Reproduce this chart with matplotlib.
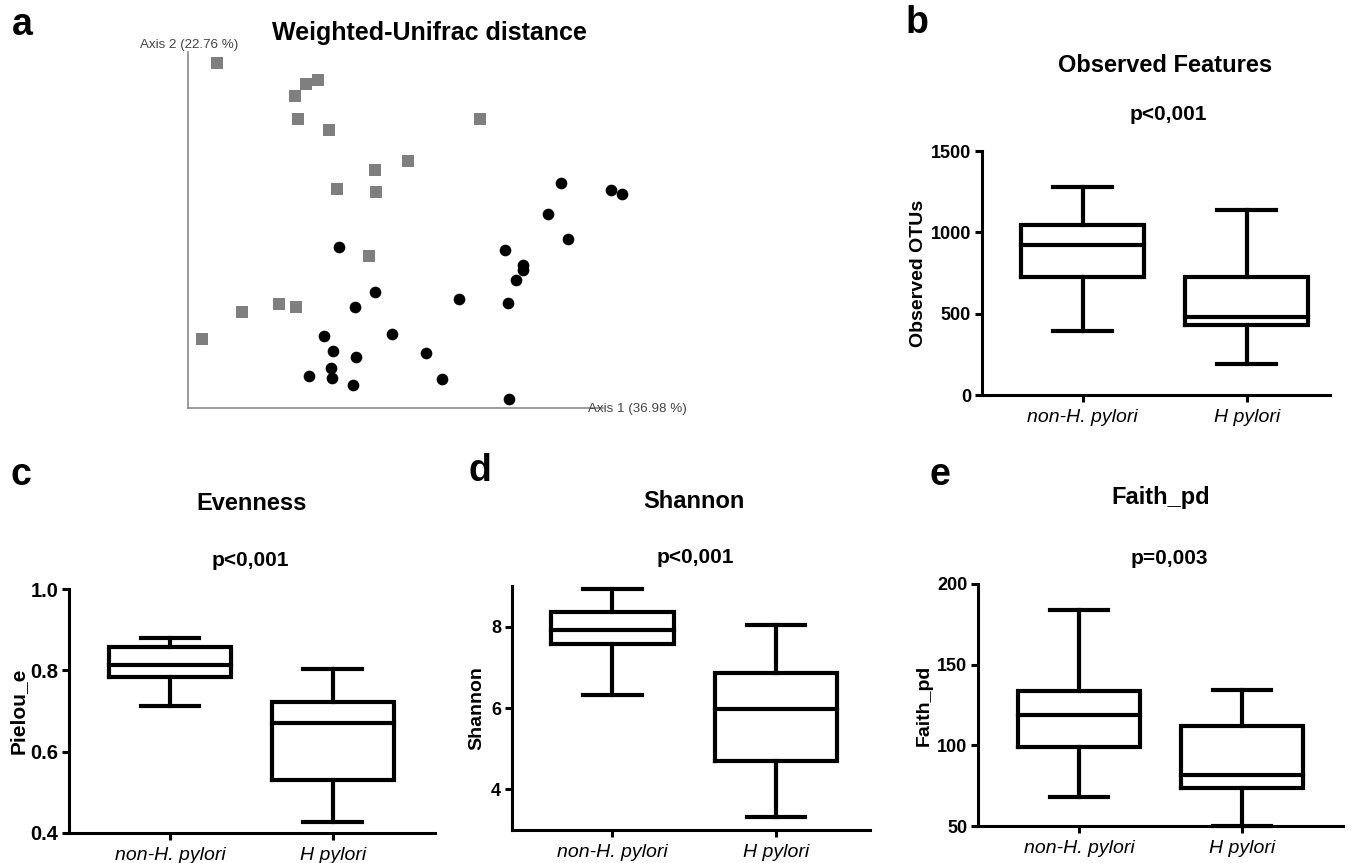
import matplotlib
matplotlib.use("Agg")
import matplotlib.pyplot as plt

plt.rcParams['font.family'] = ['Liberation Sans', 'DejaVu Sans']

W, H = 1358, 863

# ---------------- data ----------------
groups = ["non-H. pylori", "H pylori"]

# Panel a: PCoA coordinates (arbitrary units)
sq_pc1 = [0.29, 1.07, 1.18, 1.30, 1.10, 1.41, 2.92, 2.20, 1.87, 1.49, 1.88, 1.81, 0.91, 1.08, 0.54, 0.14]
sq_pc2 = [3.45, 3.12, 3.24, 3.28, 2.89, 2.78, 2.89, 2.47, 2.38, 2.19, 2.16, 1.52, 1.04, 1.01, 0.96, 0.69]
ci_pc1 = [3.73, 4.23, 4.34, 3.60, 3.80, 1.51, 3.17, 3.35, 3.35, 3.28, 1.87, 2.71, 3.20,
          1.67, 2.04, 1.36, 1.45, 2.38, 1.68, 1.43, 1.21, 1.44, 2.54, 1.65, 3.21]
ci_pc2 = [2.25, 2.18, 2.14, 1.94, 1.69, 1.61, 1.58, 1.43, 1.38, 1.28, 1.16, 1.09, 1.05,
          1.01, 0.74, 0.72, 0.57, 0.55, 0.51, 0.40, 0.32, 0.30, 0.29, 0.23, 0.09]

# Panel b: Observed features
obs_whislo = [391, 188]
obs_q1 = [726, 430]
obs_med = [921, 480]
obs_q3 = [1044, 726]
obs_whishi = [1279, 1140]

# Panel c: Evenness
eve_whislo = [0.713, 0.426]
eve_q1 = [0.783, 0.530]
eve_med = [0.813, 0.670]
eve_q3 = [0.858, 0.723]
eve_whishi = [0.879, 0.804]

# Panel d: Shannon
sha_whislo = [6.31, 3.31]
sha_q1 = [7.58, 4.70]
sha_med = [7.92, 5.98]
sha_q3 = [8.36, 6.87]
sha_whishi = [8.93, 8.03]

# Panel e: Faith_pd
fai_whislo = [68.2, 50.2]
fai_q1 = [98.8, 73.6]
fai_med = [118.6, 81.6]
fai_q3 = [133.9, 112.0]
fai_whishi = [183.9, 134.3]

fig = plt.figure(figsize=(W / 100, H / 100), dpi=100)


def px_axes(left, top, right, bottom):
    return fig.add_axes([left / W, (H - bottom) / H, (right - left) / W, (bottom - top) / H])


def ftext(x, y, s, **kw):
    fig.text(x / W, 1 - y / H, s, ha=kw.pop('ha', 'center'), va=kw.pop('va', 'center'), **kw)


# ---------------- panel a ----------------
axa = px_axes(188, 48, 688, 408)
axa.set_xlim(0, 5)
axa.set_ylim(0, 3.6)
axa.axis('off')
axa.plot([0, 0], [0, 3.56], color='#8a8a8a', lw=1.2, clip_on=False)
axa.plot([0, 4.15], [0, 0], color='#8a8a8a', lw=1.2, clip_on=False)
axa.plot(sq_pc1, sq_pc2, linestyle='none', marker='s', markersize=8.0,
         color='#7f7f7f', markeredgewidth=0, clip_on=False)
axa.plot(ci_pc1, ci_pc2, linestyle='none', marker='o', markersize=8.4,
         color='black', markeredgewidth=0, clip_on=False)
ftext(140, 45, "Axis 2 (22.76 %)", ha='left', fontsize=9.6, color='#444444')
ftext(588, 409, "Axis 1 (36.98 %)", ha='left', fontsize=9.6, color='#444444')
ftext(429, 33, "Weighted-Unifrac distance", fontsize=18, fontweight='bold')


# ---------------- box panels ----------------
def box_panel(rect, xlim, ylim, yticks, yticklabels, whislo, q1, med, q3, whishi,
              ylabel, ylabel_x, tick_fs=13, label_fs=14):
    ax = px_axes(*rect)
    stats = []
    for i in range(len(groups)):
        stats.append(dict(whislo=whislo[i], q1=q1[i], med=med[i], q3=q3[i], whishi=whishi[i], fliers=[]))
    lw = 3.0
    ax.bxp(stats, positions=[1, 2], widths=0.75, capwidths=0.36, showfliers=False,
           patch_artist=False,
           boxprops=dict(color='black', linewidth=lw),
           whiskerprops=dict(color='black', linewidth=lw),
           capprops=dict(color='black', linewidth=lw),
           medianprops=dict(color='black', linewidth=lw),
           manage_ticks=False)
    for ln in ax.lines:
        ln.set_clip_on(False)
        ln.set_solid_capstyle('projecting')
        ln.set_solid_joinstyle('miter')
    ax.set_xlim(*xlim)
    ax.set_ylim(*ylim)
    ax.set_xticks([1, 2])
    ax.set_xticklabels(groups, fontsize=14, fontstyle='italic')
    ax.set_yticks(yticks)
    ax.set_yticklabels(yticklabels, fontsize=tick_fs, fontweight='bold')
    for s in ['top', 'right']:
        ax.spines[s].set_visible(False)
    for s in ['left', 'bottom']:
        ax.spines[s].set_linewidth(2.2)
    ax.tick_params(axis='both', width=2.2, length=5, pad=3)
    ax.tick_params(axis='x', pad=5)
    ax.set_ylabel(ylabel, fontsize=label_fs, fontweight='bold')
    ax.yaxis.set_label_coords(ylabel_x, 0.5)
    return ax


box_panel((982, 151, 1330, 395), (0.386, 2.508), (0, 1500), [0, 500, 1000, 1500],
          ['0', '500', '1000', '1500'],
          obs_whislo, obs_q1, obs_med, obs_q3, obs_whishi, 'Observed OTUs', -0.158)
box_panel((69.3, 589.3, 435, 832.7), (0.381, 2.629), (0.4, 1.0), [0.4, 0.6, 0.8, 1.0],
          ['0.4', '0.6', '0.8', '1.0'],
          eve_whislo, eve_q1, eve_med, eve_q3, eve_whishi, 'Pielou_e', -0.113,
          tick_fs=14.5, label_fs=15)
box_panel((512.3, 586, 870, 830), (0.389, 2.574), (3.0, 9.0), [4, 6, 8],
          ['4', '6', '8'],
          sha_whislo, sha_q1, sha_med, sha_q3, sha_whishi, 'Shannon', -0.076)
box_panel((978.3, 584, 1343, 826), (0.381, 2.62), (50, 200), [50, 100, 150, 200],
          ['50', '100', '150', '200'],
          fai_whislo, fai_q1, fai_med, fai_q3, fai_whishi, 'Faith_pd', -0.124)

# titles and p-values
ftext(1165, 65, "Observed Features", fontsize=17, fontweight='bold')
ftext(1168, 115, "p<0,001", fontsize=15, fontweight='bold')
ftext(252, 503, "Evenness", fontsize=17, fontweight='bold')
ftext(250, 560, "p<0,001", fontsize=15, fontweight='bold')
ftext(694, 501, "Shannon", fontsize=17, fontweight='bold')
ftext(695, 557, "p<0,001", fontsize=15, fontweight='bold')
ftext(1161, 497, "Faith_pd", fontsize=17, fontweight='bold')
ftext(1169, 558, "p=0,003", fontsize=15, fontweight='bold')

# panel letters
for letter, x, y in [('a', 22, 25), ('b', 917, 23), ('c', 21, 475), ('d', 480, 471), ('e', 940, 475)]:
    ftext(x, y, letter, fontsize=27, fontweight='bold')

fig.savefig("out.png", dpi=100)
